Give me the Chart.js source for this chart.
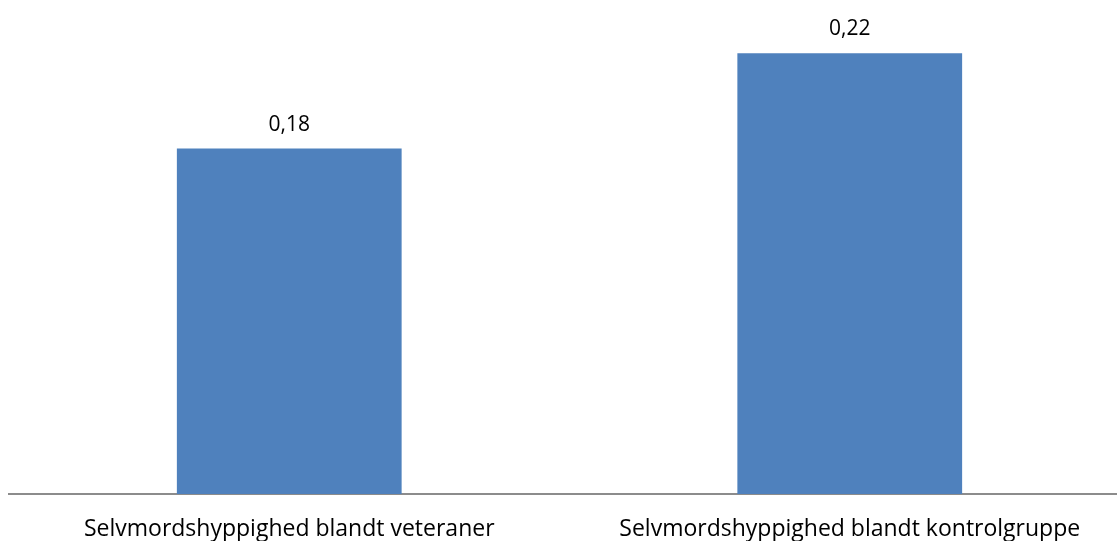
<!DOCTYPE html>
<html>
<head>
<meta charset="utf-8">
<script src="https://cdn.jsdelivr.net/npm/chart.js@4.4.1/dist/chart.umd.min.js"></script>
<style>
  html, body { margin: 0; padding: 0; background: #fff; overflow: hidden; }
  #wrap { position: relative; width: 1130px; height: 541px; }
</style>
</head>
<body>
<div id="wrap"><canvas id="c"></canvas></div>
<script>
const categories = ["Selvmordshyppighed blandt veteraner", "Selvmordshyppighed blandt kontrolgruppe"];
const values = [0.1755, 0.224];
const valueLabels = ["0,18", "0,22"];

const FONT = "'Open Sans', Lato, sans-serif";

const valueLabelPlugin = {
  id: 'valueLabels',
  afterDatasetsDraw(chart) {
    const ctx = chart.ctx;
    const meta = chart.getDatasetMeta(0);
    ctx.save();
    ctx.font = "21px " + FONT;
    ctx.fillStyle = "#000";
    ctx.textAlign = "center";
    ctx.textBaseline = "middle";
    meta.data.forEach((bar, i) => {
      ctx.fillText(valueLabels[i], bar.x, bar.y - 24);
    });
    ctx.restore();
  }
};

new Chart(document.getElementById('c'), {
  type: 'bar',
  data: {
    labels: categories,
    datasets: [{
      data: values,
      backgroundColor: '#4F81BD',
      borderWidth: 0,
      categoryPercentage: 1,
      barPercentage: 0.401
    }]
  },
  options: {
    responsive: true,
    maintainAspectRatio: false,
    animation: false,
    layout: { padding: { left: 9, right: 0, top: 2, bottom: 0 } },
    plugins: { legend: { display: false }, tooltip: { enabled: false } },
    scales: {
      y: { display: false, min: 0, max: 0.25 },
      x: {
        grid: { display: false, drawTicks: false },
        border: { display: true, color: '#8c8c8c', width: 2 },
        ticks: { color: '#000', font: { family: FONT, size: 23 }, padding: 22, maxRotation: 0, autoSkip: false },
        afterFit(scale) { scale.height = 47; }
      }
    }
  },
  plugins: [valueLabelPlugin]
});
</script>
</body>
</html>
